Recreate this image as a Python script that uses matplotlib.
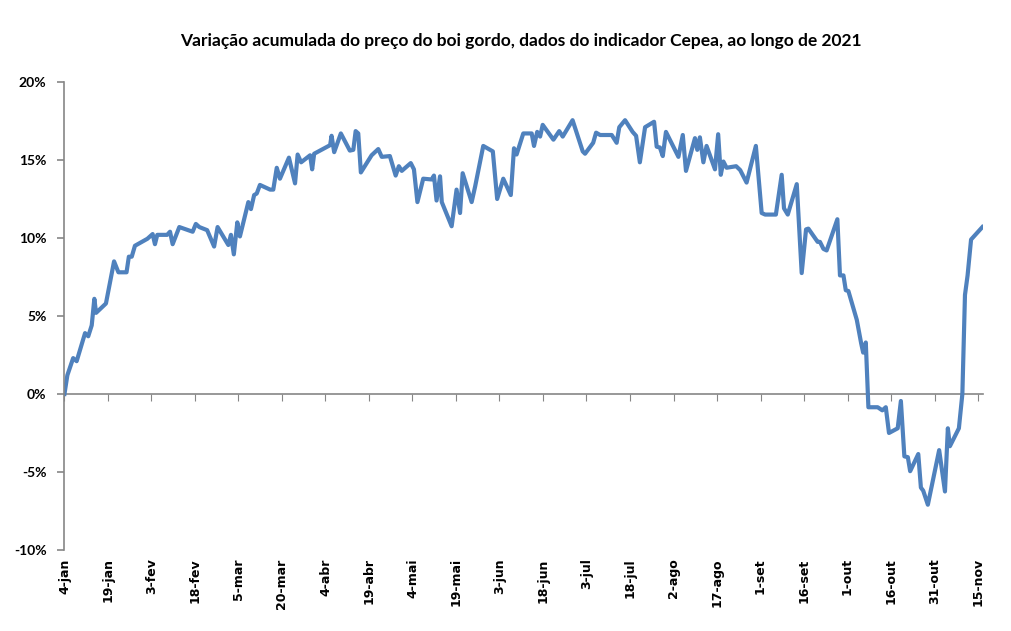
import datetime as dt

import matplotlib
matplotlib.use("Agg")
from matplotlib import pyplot as plt
from matplotlib.ticker import FuncFormatter

# ======= Dados ===================================================

# dias desde 4-jan
dias = [
    0, 1.0, 3.0, 4.2, 7.1, 8.2, 9.4, 10.3, 10.9, 14.3,
    17.1, 18.6, 21.4, 22.2, 23.2, 24.3, 28.6, 30.4, 31.2, 32.0,
    35.4, 36.4, 37.3, 39.6, 44.2, 45.3, 46.5, 49.2, 51.6, 52.8,
    56.5, 57.4, 58.4, 59.6, 60.5, 63.4, 64.3, 65.4, 66.3, 67.4,
    70.9, 72.0, 73.2, 74.3, 77.4, 79.5, 80.4, 81.6, 84.7, 85.4,
    86.1, 91.6, 92.1, 93.0, 95.3, 98.4, 99.6, 100.4, 101.3, 102.2,
    105.9, 108.2, 109.4, 112.2, 114.2, 115.3, 116.3, 119.4, 120.5, 121.7,
    123.7, 126.6, 127.4, 128.3, 129.5, 130.1, 133.5, 135.2, 136.4, 137.3,
    140.4, 141.6, 144.4, 147.7, 149.2, 151.3, 153.9, 155.0, 155.9, 158.2,
    161.1, 161.9, 163.0, 164.0, 164.9, 168.6, 170.6, 171.8, 175.2, 178.7,
    179.5, 182.3, 183.3, 184.7, 188.7, 190.4, 191.3, 193.3, 195.9, 197.1,
    198.4, 200.2, 203.3, 204.2, 205.3, 206.3, 207.4, 211.7, 213.2, 214.3,
    217.4, 218.2, 219.1, 220.3, 221.4, 224.3, 225.4, 226.3, 227.2, 228.3,
    231.6, 233.0, 235.2, 238.4, 240.4, 241.6, 245.3, 247.3, 248.1, 249.4,
    252.5, 254.2, 255.7, 256.5, 259.7, 260.5, 261.7, 262.8, 266.5, 267.4,
    268.6, 269.4, 270.3, 273.2, 274.7, 275.4, 276.3, 277.2, 280.4, 282.0,
    283.2, 284.3, 287.3, 288.4, 289.6, 290.8, 291.6, 294.4, 295.3, 296.1,
    297.7, 301.6, 303.6, 304.6, 305.3, 308.4, 309.6, 310.5, 311.4, 312.6,
    316.5,
]

# variação acumulada (%)
variacao = [
    0.0, 1.2, 2.3, 2.1, 3.9, 3.7, 4.4, 6.1, 5.2, 5.8,
    8.5, 7.8, 7.8, 8.8, 8.8, 9.5, 9.95, 10.25, 9.6, 10.2,
    10.2, 10.4, 9.6, 10.7, 10.4, 10.9, 10.7, 10.5, 9.45, 10.7,
    9.55, 10.2, 8.95, 11.0, 10.1, 12.3, 11.85, 12.75, 12.85, 13.4,
    13.1, 13.1, 14.5, 13.8, 15.15, 13.5, 15.35, 14.85, 15.3, 14.4,
    15.4, 15.95, 16.55, 15.5, 16.7, 15.6, 15.65, 16.85, 16.7, 14.2,
    15.3, 15.7, 15.2, 15.25, 14.0, 14.6, 14.3, 14.8, 14.4, 12.3,
    13.8, 13.75, 14.0, 12.4, 13.95, 12.3, 10.75, 13.1, 11.6, 14.15,
    12.3, 13.3, 15.9, 15.55, 12.5, 13.8, 12.75, 15.75, 15.35, 16.7,
    16.7, 15.9, 16.8, 16.5, 17.25, 16.3, 16.85, 16.5, 17.55, 15.55,
    15.4, 16.1, 16.75, 16.6, 16.6, 16.1, 17.1, 17.55, 16.8, 16.55,
    14.85, 17.1, 17.45, 15.85, 15.8, 15.25, 16.8, 15.2, 16.6, 14.3,
    16.4, 15.65, 16.45, 14.85, 15.9, 14.4, 16.65, 14.05, 14.9, 14.5,
    14.6, 14.35, 13.55, 15.9, 11.6, 11.5, 11.5, 14.05, 11.9, 11.5,
    13.45, 7.75, 10.55, 10.6, 9.75, 9.75, 9.3, 9.2, 11.2, 7.6,
    7.6, 6.65, 6.6, 4.75, 3.25, 2.65, 3.3, -0.85, -0.85, -1.05,
    -0.85, -2.5, -2.2, -0.45, -4.0, -4.05, -4.95, -3.85, -6.0, -6.2,
    -7.1, -3.6, -6.25, -2.2, -3.35, -2.2, 0.0, 6.35, 7.6, 9.9,
    10.7,
]

MESES = ["jan", "fev", "mar", "abr", "mai", "jun",
         "jul", "ago", "set", "out", "nov", "dez"]

TITULO = "Variação acumulada do preço do boi gordo, dados do indicador Cepea, ao longo de 2021"

COR_LINHA = "#4F81BD"
COR_EIXO = "#868686"

# ==================================================================


def main() -> None:
    inicio = dt.datetime(2021, 1, 4)
    datas = [inicio + dt.timedelta(days=d) for d in dias]

    fig = plt.figure(figsize=(10.12, 6.31), dpi=100)
    ax = fig.add_axes([0.0637, 0.1284, 0.9076, 0.7417])

    ax.plot(datas, variacao, color=COR_LINHA, linewidth=3.0, solid_joinstyle="round")

    ax.set_ylim(-10, 20)
    ax.set_yticks(range(-10, 21, 5))
    ax.yaxis.set_major_formatter(FuncFormatter(lambda v, _: f"{v:.0f}%"))

    x_fim = inicio + dt.timedelta(days=316.7)
    ax.set_xlim(inicio, x_fim)

    # ticks a cada 15 dias, a partir de 4-jan
    ticks = [inicio + dt.timedelta(days=15 * i) for i in range(22) if 15 * i <= 316]
    labels = [f"{t.day}-{MESES[t.month - 1]}" for t in ticks]

    # eixo principal: só os rótulos, embaixo
    ax.set_xticks(ticks)
    ax.set_xticklabels(labels, rotation=90, fontsize=9, fontweight="bold",
                       family="DejaVu Sans", va="top", ha="center")
    ax.tick_params(axis="x", length=0, pad=6)

    # eixo secundário no zero, com marcas de escala
    ax_zero = ax.secondary_xaxis(1 / 3)
    ax_zero.set_xticks(ticks)
    ax_zero.tick_params(axis="x", direction="out", length=5, color=COR_EIXO,
                        labelbottom=False, labeltop=False)
    ax_zero.spines["bottom"].set_color(COR_EIXO)
    ax_zero.spines["bottom"].set_linewidth(1.2)

    for side in ["top", "right", "bottom"]:
        ax.spines[side].set_visible(False)
    ax.spines["left"].set_color(COR_EIXO)
    ax.spines["left"].set_linewidth(1.2)
    ax.tick_params(axis="y", direction="out", length=5, color=COR_EIXO, width=1.2, pad=8)
    for lbl in ax.get_yticklabels():
        lbl.set_fontfamily("Lato")
        lbl.set_fontweight("bold")
        lbl.set_fontsize(10)

    fig.text(0.515, 0.935, TITULO, ha="center", va="center",
             fontsize=12.5, fontweight="bold", family="Lato")

    fig.savefig("out.png", dpi=100)
    plt.close(fig)


if __name__ == "__main__":
    main()
